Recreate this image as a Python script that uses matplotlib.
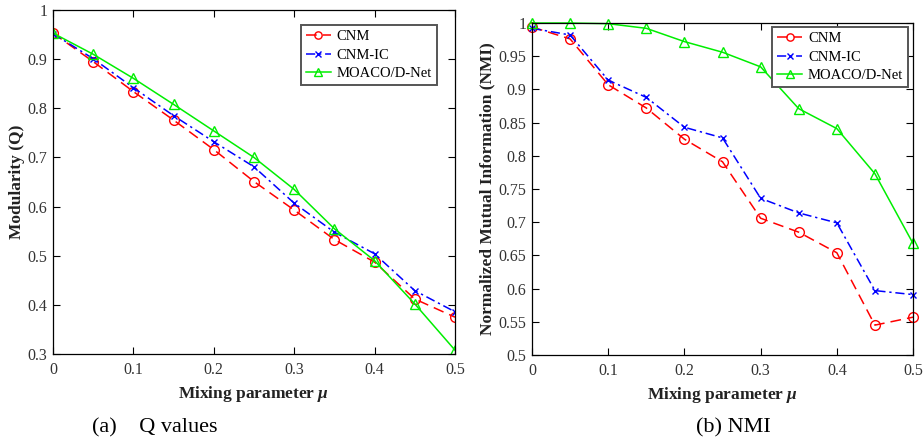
import numpy as np
import matplotlib
matplotlib.use("Agg")
import matplotlib.pyplot as plt

plt.rcParams['font.family'] = 'Liberation Serif'
plt.rcParams['mathtext.fontset'] = 'custom'
plt.rcParams['mathtext.it'] = 'Liberation Serif:italic:bold'
plt.rcParams['mathtext.rm'] = 'Liberation Serif:bold'

mu = [0, 0.05, 0.1, 0.15, 0.2, 0.25, 0.3, 0.35, 0.4, 0.45, 0.5]
labels = ["CNM", "CNM-IC", "MOACO/D-Net"]

# modularity Q
q_cnm = [0.953, 0.895, 0.834, 0.776, 0.716, 0.651, 0.593, 0.533, 0.487, 0.412, 0.375]
q_cnmic = [0.952, 0.901, 0.842, 0.785, 0.732, 0.681, 0.607, 0.548, 0.504, 0.429, 0.386]
q_moaco = [0.953, 0.910, 0.861, 0.808, 0.754, 0.700, 0.635, 0.555, 0.490, 0.402, 0.308]

# NMI
nmi_cnm = [0.994, 0.976, 0.907, 0.872, 0.825, 0.791, 0.706, 0.685, 0.654, 0.545, 0.557]
nmi_cnmic = [0.992, 0.982, 0.914, 0.888, 0.843, 0.827, 0.736, 0.714, 0.699, 0.597, 0.591]
nmi_moaco = [1.0, 1.0, 0.999, 0.992, 0.972, 0.956, 0.934, 0.871, 0.841, 0.773, 0.668]

styles = [dict(color='#ff0000', ls=(0, (7, 4)), marker='o', ms=7, mfc='none'),
          dict(color='#0000ff', ls=(0, (6, 2.5, 1.5, 2.5)), marker='x', ms=5),
          dict(color='#00ee00', ls='-', marker='^', ms=7, mfc='none')]

fig = plt.figure(figsize=(9.23, 4.47), dpi=100)
ax1 = fig.add_axes([0.0574, 0.208, 0.4355, 0.7696])
ax2 = fig.add_axes([0.5764, 0.2058, 0.4128, 0.7427])


def fmt(v):
    s = ("%.2f" % v).rstrip('0').rstrip('.')
    return s


def setup(ax, ylo, yhi, step, ylabel, anchor, ypad):
    ax.set_xlim(0, 0.5)
    ax.set_ylim(ylo, yhi)
    xt = np.arange(0, 0.51, 0.1)
    yt = np.arange(ylo, yhi + step / 2, step)
    ax.set_xticks(xt)
    ax.set_xticklabels([fmt(v) for v in xt])
    ax.set_yticks(yt)
    ax.set_yticklabels([fmt(v) for v in yt])
    ax.tick_params(direction='in', top=True, right=True, length=5, width=0.8,
                   labelsize=11.5, labelcolor='#333333')
    ax.tick_params(axis='x', pad=6)
    ax.tick_params(axis='y', pad=4)
    for sp in ax.spines.values():
        sp.set_linewidth(0.9)
    ax.set_xlabel(r"Mixing parameter $\mu$", fontsize=12.5, fontweight='bold',
                  color='#222222')
    ax.set_ylabel(ylabel, fontsize=12.5, fontweight='bold', color='#222222',
                  labelpad=ypad)
    leg = ax.legend(loc='upper right', bbox_to_anchor=anchor, borderaxespad=0,
                    fontsize=10.5, fancybox=False, edgecolor='#555555',
                    framealpha=1, handlelength=1.7, handletextpad=0.4,
                    borderpad=0.35, labelspacing=0.35, markerscale=0.75)
    leg.get_frame().set_linewidth(1.4)


for ys, lab, st in zip([q_cnm, q_cnmic, q_moaco], labels, styles):
    ax1.plot(mu, ys, lw=1.1, label=lab, **st)
setup(ax1, 0.3, 1.0, 0.1, "Modularity (Q)", (0.955, 0.956), 2)

for ys, lab, st in zip([nmi_cnm, nmi_cnmic, nmi_moaco], labels, styles):
    ax2.plot(mu, ys, lw=1.1, label=lab, clip_on=False, **st)
setup(ax2, 0.5, 1.0, 0.05, "Normalized Mutual Information (NMI)", (0.988, 0.988), 2)

fig.text(0.1, 0.042, "(a)    Q values", fontsize=16, ha='left', va='center')
fig.text(0.795, 0.042, "(b) NMI", fontsize=16, ha='center', va='center')

fig.savefig("out.png", dpi=100)
